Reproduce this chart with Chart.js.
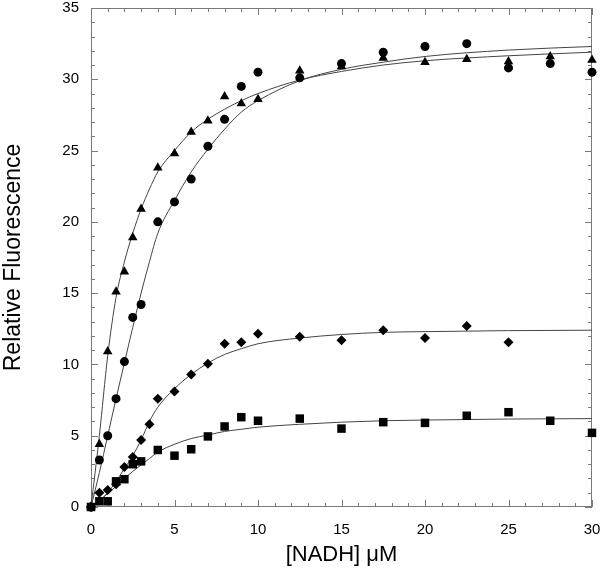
<!DOCTYPE html>
<html>
<head>
<meta charset="utf-8">
<script src="https://cdn.jsdelivr.net/npm/chart.js@4.4.1/dist/chart.umd.min.js"></script>
<style>
  html, body { margin: 0; padding: 0; background: #fff; }
</style>
</head>
<body>
<canvas id="chart" width="600" height="574"></canvas>
<script>
// measured points (x = [NADH] in uM)
const concentrations = [0, 0.5, 1, 1.5, 2, 2.5, 3, 4, 5, 6, 7, 8, 9, 10, 12.5, 15, 17.5, 20, 22.5, 25, 27.5, 30];
const triangles = [0, 4.4, 10.9, 15.1, 16.5, 18.9, 20.9, 23.8, 24.8, 26.3, 27.1, 28.8, 28.3, 28.6, 30.6, 30.9, 31.5, 31.2, 31.4, 31.25, 31.6, 31.35];
const circles = [0, 3.3, 5.0, 7.6, 10.2, 13.3, 14.2, 20.0, 21.4, 23.0, 25.3, 27.2, 29.5, 30.5, 30.1, 31.1, 31.9, 32.3, 32.5, 30.8, 31.1, 30.5];
const squares = [0, 0.4, 0.4, 1.8, 1.95, 3.0, 3.2, 4.0, 3.6, 4.05, 4.95, 5.65, 6.3, 6.05, 6.2, 5.5, 5.95, 5.9, 6.4, 6.65, 6.05, 5.2];
const diamondConc = [0, 0.5, 1, 1.5, 2, 2.5, 3, 3.5, 4, 5, 6, 7, 8, 9, 10, 12.5, 15, 17.5, 20, 22.5, 25];
const diamonds = [0, 1.0, 1.2, 1.6, 2.8, 3.5, 4.7, 5.8, 7.6, 8.1, 9.3, 10.05, 11.45, 11.55, 12.15, 11.95, 11.7, 12.4, 11.85, 12.7, 11.55];

// fitted curves
const fitConc = [0, 0.5, 1, 1.5, 2, 2.5, 3, 3.5, 4, 5, 6, 7, 8, 9, 10, 12.5, 15, 17.5, 20, 25, 30];
const fitTriangles = [0, 5.0, 10.6, 14.7, 17.2, 19.2, 20.9, 22.3, 23.5, 25.0, 26.3, 27.2, 27.9, 28.5, 29.0, 29.95, 30.55, 31.0, 31.3, 31.65, 31.9];
const fitCircles = [0, 2.4, 5.0, 7.6, 10.1, 12.6, 15.0, 17.2, 19.2, 21.5, 23.5, 25.1, 26.5, 27.7, 28.5, 29.9, 30.7, 31.2, 31.6, 32.05, 32.3];
const fitDiamonds = [0, 0.4, 1.0, 1.8, 2.7, 3.6, 4.7, 6.0, 7.0, 8.3, 9.3, 10.1, 10.7, 11.1, 11.45, 11.85, 12.1, 12.25, 12.3, 12.37, 12.4];
const fitSquares = [0, 0.45, 0.95, 1.45, 2.0, 2.5, 2.95, 3.4, 3.85, 4.4, 4.8, 5.05, 5.3, 5.45, 5.6, 5.8, 5.95, 6.05, 6.1, 6.17, 6.2];

const xTicks = [0, 5, 10, 15, 20, 25, 30];
const yTicks = [0, 5, 10, 15, 20, 25, 30, 35];

const toPoints = (xs, ys) => xs.map((x, i) => ({ x: x, y: ys[i] }));

function markers(xs, ys, style, radius) {
    return {
        data: toPoints(xs, ys),
        showLine: false,
        pointStyle: style,
        pointRadius: radius,
        pointBackgroundColor: '#000',
        pointBorderColor: '#000',
        pointBorderWidth: 0,
        clip: false
    };
}

function curve(ys) {
    return {
        data: toPoints(fitConc, ys),
        showLine: true,
        pointRadius: 0,
        borderColor: '#444',
        borderWidth: 1,
        cubicInterpolationMode: 'monotone',
        fill: false
    };
}

// box around the plot with inward ticks on all four sides
const frameTicks = {
    id: 'frameTicks',
    beforeDatasetsDraw(chart) {
        const { ctx, chartArea: a, scales: { x, y } } = chart;
        ctx.save();
        ctx.strokeStyle = '#7a7a7a';
        ctx.lineWidth = 1;
        ctx.beginPath();
        for (let v = 0; v <= 30; v++) {
            const px = Math.round(x.getPixelForValue(v)) + 0.5;
            const len = v % 5 === 0 ? 7 : 4;
            ctx.moveTo(px, a.bottom); ctx.lineTo(px, a.bottom - len);
            ctx.moveTo(px, a.top); ctx.lineTo(px, a.top + len);
        }
        for (let v = 0; v <= 35; v++) {
            const py = Math.round(y.getPixelForValue(v)) + 0.5;
            const len = v % 5 === 0 ? 7 : 4;
            ctx.moveTo(a.left, py); ctx.lineTo(a.left + len, py);
            ctx.moveTo(a.right, py); ctx.lineTo(a.right - len, py);
        }
        ctx.stroke();
        ctx.strokeRect(Math.round(a.left) + 0.5, Math.round(a.top) + 0.5,
            Math.round(a.width) - 1, Math.round(a.height) - 1);
        ctx.restore();
    }
};

const font = 'Liberation Sans, Arial, Helvetica, sans-serif';

new Chart(document.getElementById('chart'), {
    type: 'scatter',
    data: {
        datasets: [
            markers(concentrations, squares, 'rect', 6),
            markers(concentrations, circles, 'circle', 4.5),
            markers(concentrations, triangles, 'triangle', 5.5),
            markers(diamondConc, diamonds, 'rectRot', 5),
            curve(fitTriangles),
            curve(fitCircles),
            curve(fitDiamonds),
            curve(fitSquares)
        ]
    },
    options: {
        responsive: false,
        animation: false,
        layout: { padding: { top: 8, right: 8, left: 0, bottom: 0 } },
        plugins: {
            legend: { display: false },
            tooltip: { enabled: false }
        },
        scales: {
            x: {
                type: 'linear',
                min: 0,
                max: 30,
                afterFit: (s) => { s.height = 67; s.paddingLeft = 0; s.paddingRight = 0; },
                afterBuildTicks: (s) => { s.ticks = xTicks.map(v => ({ value: v })); },
                grid: { display: false, drawTicks: false },
                border: { display: false },
                ticks: { color: '#000', padding: 14, font: { family: font, size: 15 } },
                title: {
                    display: true,
                    text: '[NADH] μM',
                    color: '#000',
                    padding: { top: 0, bottom: 6 },
                    font: { family: font, size: 22 }
                }
            },
            y: {
                type: 'linear',
                min: 0,
                max: 35,
                afterFit: (s) => { s.width = 91; s.paddingTop = 0; s.paddingBottom = 0; },
                afterBuildTicks: (s) => { s.ticks = yTicks.map(v => ({ value: v })); },
                grid: { display: false, drawTicks: false },
                border: { display: false },
                ticks: { color: '#000', padding: 12, font: { family: font, size: 15 } },
                title: {
                    display: true,
                    text: 'Relative Fluorescence',
                    color: '#000',
                    padding: { top: 0, bottom: 0 },
                    font: { family: font, size: 23 }
                }
            }
        }
    },
    plugins: [frameTicks]
});
</script>
</body>
</html>
